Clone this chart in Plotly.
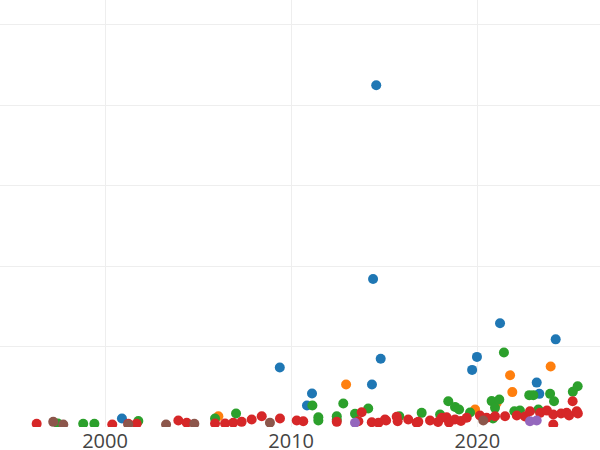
import plotly.graph_objects as go

# Series data (year, value)
blue_x = [2000.91, 2009.39, 2010.85, 2011.12, 2014.57, 2014.40, 2014.34, 2014.81,
          2019.72, 2019.98, 2021.22, 2023.19, 2023.33, 2024.21]
blue_y = [5.3, 37.0, 13.4, 20.8, 212.5, 92.0, 26.4, 42.4,
          35.5, 43.6, 64.5, 27.6, 20.6, 54.5]

orange_x = [2006.09, 2012.95, 2019.88, 2021.04, 2021.76, 2021.88, 2023.94]
orange_y = [6.7, 26.4, 10.9, 15.0, 32.2, 21.7, 37.6]

green_x = [1997.47, 1998.83, 1999.43, 2001.79, 2005.91, 2007.04, 2011.14, 2011.46,
           2011.46, 2012.45, 2012.45, 2012.80, 2013.43, 2014.14, 2015.81, 2017.01,
           2018.00, 2018.44, 2018.80, 2019.02, 2019.61, 2020.77, 2020.84, 2020.95,
           2021.18, 2021.43, 2021.99, 2022.29, 2022.79, 2023.01, 2023.28, 2023.91,
           2024.12, 2025.13, 2025.39]
green_y = [2.2, 2.0, 2.0, 3.7, 5.3, 8.4, 13.4, 6.0,
           4.0, 6.7, 4.5, 14.6, 8.2, 11.5, 6.7, 8.8,
           7.8, 16.0, 12.5, 10.9, 9.0, 16.1, 5.3, 11.9,
           17.1, 46.3, 9.8, 10.2, 19.8, 19.8, 10.9, 20.6,
           16.0, 21.9, 25.3]

red_x = [1996.33, 2000.39, 2001.25, 2001.70, 2003.94, 2004.39, 2005.91, 2006.45,
         2006.89, 2007.34, 2007.88, 2008.42, 2009.40, 2010.30, 2010.65, 2012.45,
         2013.61, 2013.79, 2014.33, 2014.69, 2015.04, 2015.10, 2015.67, 2015.72,
         2016.29, 2016.74, 2016.83, 2017.46, 2017.89, 2018.09, 2018.35, 2018.48,
         2018.80, 2019.12, 2019.43, 2020.14, 2020.50, 2020.95, 2021.49, 2022.12,
         2022.56, 2022.83, 2023.37, 2023.74, 2024.08, 2024.08, 2024.50, 2024.80,
         2024.93, 2025.12, 2025.34, 2025.40]
red_y = [2.0, 1.6, 2.0, 2.0, 4.0, 2.6, 2.2, 2.2,
         2.6, 3.2, 4.7, 6.7, 5.3, 4.0, 3.6, 3.2,
         3.6, 9.2, 3.0, 2.6, 4.7, 4.0, 6.3, 3.6,
         4.7, 2.6, 3.2, 4.0, 3.1, 5.7, 6.1, 2.8,
         4.7, 3.7, 5.7, 7.1, 5.7, 6.7, 6.7, 7.1,
         6.5, 9.8, 8.8, 10.2, 7.8, 1.6, 8.4, 8.8,
         7.1, 16.0, 9.8, 8.4]

purple_x = [2013.43, 2022.83, 2023.19]
purple_y = [2.6, 3.6, 4.0]

brown_x = [1997.22, 1997.76, 2001.25, 2003.28, 2004.80, 2008.86, 2020.32]
brown_y = [3.2, 1.6, 1.6, 1.6, 2.0, 2.6, 4.0]

series = [
    ("Series A", blue_x, blue_y, "#1f77b4"),
    ("Series B", orange_x, orange_y, "#ff7f0e"),
    ("Series C", green_x, green_y, "#2ca02c"),
    ("Series D", red_x, red_y, "#d62728"),
    ("Series E", purple_x, purple_y, "#9467bd"),
    ("Series F", brown_x, brown_y, "#8c564b"),
]

fig = go.Figure()
for name, xs, ys, color in series:
    fig.add_trace(go.Scatter(x=xs, y=ys, mode="markers", name=name,
                             marker=dict(color=color, size=10)))

fig.update_layout(
    template="none",
    width=600, height=450,
    margin=dict(l=0, r=0, t=0, b=22.5),
    showlegend=False,
    plot_bgcolor="white", paper_bgcolor="white",
    font=dict(family="Open Sans", color="#444"),
    xaxis=dict(range=[1994.36, 2026.59], dtick=10, tick0=2000,
               gridcolor="#eee", zeroline=False, showline=False,
               tickfont=dict(size=20)),
    yaxis=dict(range=[0, 265.5], dtick=50, gridcolor="#eee", zeroline=False,
               showline=False, showticklabels=False),
)

fig.write_html("out.html",
               config={"displayModeBar": False},
               post_script="document.body.style.margin='0';document.body.style.overflow='hidden';")
